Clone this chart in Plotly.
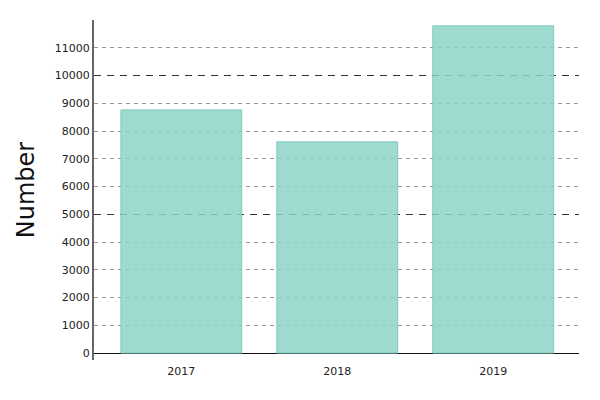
import plotly.graph_objects as go

years = ["2017", "2018", "2019"]
values = [8760, 7610, 11790]
tick_vals = [0, 1000, 2000, 3000, 4000, 5000, 6000, 7000, 8000, 9000, 10000, 11000]
minor_grid = [1000, 2000, 3000, 4000, 6000, 7000, 8000, 9000, 11000]
major_grid = [5000, 10000]

yrange = [-250, 12000]

fig = go.Figure()
fig.add_trace(go.Bar(
    x=years, y=values,
    marker=dict(color="rgba(141,211,199,0.85)",
                line=dict(color="rgba(130,200,190,1)", width=1)),
    showlegend=False,
))

font = "DejaVu Sans"
fig.update_layout(
    width=600, height=400,
    margin=dict(l=86, r=29, t=12, b=48),
    paper_bgcolor="white", plot_bgcolor="white",
    bargap=0.225,
    font=dict(family=font, size=11, color="#222"),
    xaxis=dict(range=[-0.56, 2.55], showgrid=False, showline=False,
               ticks="outside", ticklen=1, tickcolor="rgba(0,0,0,0)",
               tickfont=dict(size=11), zeroline=False, automargin=False),
    yaxis=dict(range=yrange, tickvals=tick_vals, tickformat="d", showgrid=False,
               showline=True, linecolor="#666", linewidth=2, ticks="",
               zeroline=True, zerolinecolor="#111", zerolinewidth=1, automargin=False,
               title=dict(text="Number", font=dict(size=24, color="#111"), standoff=13),
               tickfont=dict(size=11)),
    yaxis2=dict(range=yrange, overlaying="y", tickvals=minor_grid, showticklabels=False,
                showgrid=True, gridcolor="#999", gridwidth=1, griddash="4px,4px",
                zeroline=False, showline=False, ticks="", automargin=False),
    yaxis3=dict(range=yrange, overlaying="y", tickvals=major_grid, showticklabels=False,
                showgrid=True, gridcolor="#333", gridwidth=1, griddash="7px,6px",
                zeroline=False, showline=False, ticks="", automargin=False),
)
fig.add_trace(go.Scatter(x=years, y=values, yaxis="y2", mode="markers",
                         marker=dict(opacity=0), showlegend=False, hoverinfo="skip"))
fig.add_trace(go.Scatter(x=years, y=values, yaxis="y3", mode="markers",
                         marker=dict(opacity=0), showlegend=False, hoverinfo="skip"))

fig.write_html("out.html")
